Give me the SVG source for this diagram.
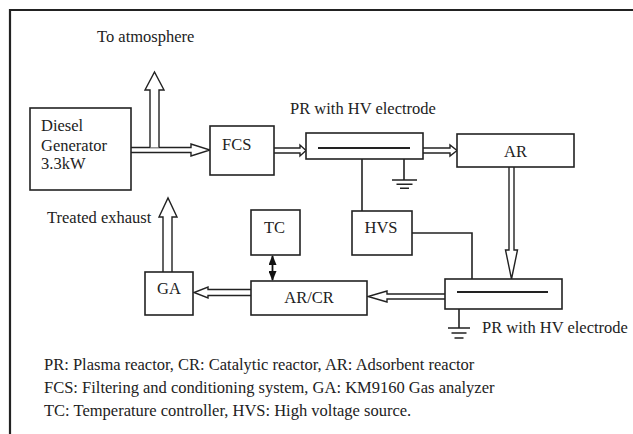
<svg xmlns="http://www.w3.org/2000/svg" width="633" height="434" viewBox="0 0 633 434">
<style>
.box{fill:#fff;stroke:#222;stroke-width:1.6}
.ar{fill:#fff;stroke:#222;stroke-width:1.4;stroke-linejoin:miter}
.w{fill:none;stroke:#222;stroke-width:1.6}
.t{font-family:"Liberation Serif","Times New Roman",serif;font-size:16.5px;fill:#222}
.c{text-anchor:middle}
</style>
<defs>
<marker id="fh" markerWidth="10" markerHeight="8" refX="9" refY="4" orient="auto-start-reverse" markerUnits="userSpaceOnUse">
<path d="M0,0 L10,4 L0,8 Z" fill="#111"/>
</marker>
</defs>
<rect width="633" height="434" fill="#fff"/>
<path d="M10,434 V10 H633" fill="none" stroke="#222" stroke-width="2.2"/>

<g id="connectors">
<!-- Diesel -> FCS -->
<path class="ar" d="M131,147.5 H191 V144 L210,150 L191,156 V152.5 H131"/>
<!-- to atmosphere -->
<path class="ar" d="M150,147.5 V90 H145 L154.5,72 L164,90 H159 V147.5"/>
<!-- FCS -> PR -->
<path class="ar" d="M274,148 H300 V145 L306,150.5 L300,156 V153 H274"/>
<!-- PR -> AR -->
<path class="ar" d="M423,148 H450 V145 L457,150.5 L450,156 V153 H423"/>
<!-- AR -> lower PR -->
<path class="ar" d="M509,167 V250 H505.5 L511.5,279 L517.5,250 H514 V167"/>
<!-- lower PR -> AR/CR -->
<path class="ar" d="M445,294 H387 V291 L368,296.5 L387,302 V299 H445"/>
<!-- AR/CR -> GA -->
<path class="ar" d="M251,289.5 H208 V287 L194,292.5 L208,298 V295.5 H251"/>
<!-- GA -> treated exhaust -->
<path class="ar" d="M163,272 V217 H159 L168,198 L177,217 H172 V272"/>
<!-- TC <-> AR/CR -->
<line x1="272.5" y1="256" x2="272.5" y2="280" stroke="#111" stroke-width="1.8" marker-start="url(#fh)" marker-end="url(#fh)"/>
<!-- HV wires -->
<path class="w" d="M362,148 V211"/>
<path class="w" d="M412,233 H472 V292"/>
</g>

<g id="diesel">
<rect class="box" x="30" y="108" width="101" height="82"/>
<text class="t" x="41" y="131">Diesel</text>
<text class="t" x="41" y="151">Generator</text>
<text class="t" x="41" y="169">3.3kW</text>
</g>
<g id="atmosphere"><text class="t" x="97" y="42">To atmosphere</text></g>
<g id="fcs">
<rect class="box" x="210" y="126" width="64" height="49"/>
<text class="t" x="222" y="150">FCS</text>
</g>
<g id="pr1">
<text class="t" x="290" y="114">PR with HV electrode</text>
<rect class="box" x="306" y="133" width="117" height="26"/>
<line x1="318" y1="148" x2="410" y2="148" stroke="#222" stroke-width="1.8"/>
<path class="w" d="M404,159 V180 M392,180 H417 M396.5,184.3 H412.5 M400,188.3 H409"/>
</g>
<g id="ar">
<rect class="box" x="457" y="134" width="117" height="33"/>
<text class="t c" x="515.5" y="157">AR</text>
</g>
<g id="hvs">
<rect class="box" x="352" y="211" width="60" height="44"/>
<text class="t c" x="381" y="233">HVS</text>
</g>
<g id="tc">
<rect class="box" x="251" y="210" width="49" height="45"/>
<text class="t c" x="274.5" y="233">TC</text>
</g>
<g id="pr2">
<rect class="box" x="445" y="279" width="117" height="30"/>
<line x1="457" y1="292" x2="548" y2="292" stroke="#222" stroke-width="1.8"/>
<path class="w" d="M459,309 V328 M448,328 H470 M451.5,333 H466.5 M454.5,338 H463.5"/>
<text class="t" x="482" y="333">PR with HV electrode</text>
</g>
<g id="arcr">
<rect class="box" x="251" y="281" width="116" height="34"/>
<text class="t c" x="309" y="303">AR/CR</text>
</g>
<g id="ga">
<rect class="box" x="145" y="272" width="48" height="43"/>
<text class="t c" x="169" y="294">GA</text>
</g>
<g id="treated"><text class="t" x="47" y="223">Treated exhaust</text></g>
<g id="legend">
<text class="t" x="44" y="370">PR: Plasma reactor, CR: Catalytic reactor, AR: Adsorbent reactor</text>
<text class="t" x="44" y="393">FCS: Filtering and conditioning system, GA: KM9160 Gas analyzer</text>
<text class="t" x="44" y="416">TC: Temperature controller, HVS: High voltage source.</text>
</g>
</svg>
